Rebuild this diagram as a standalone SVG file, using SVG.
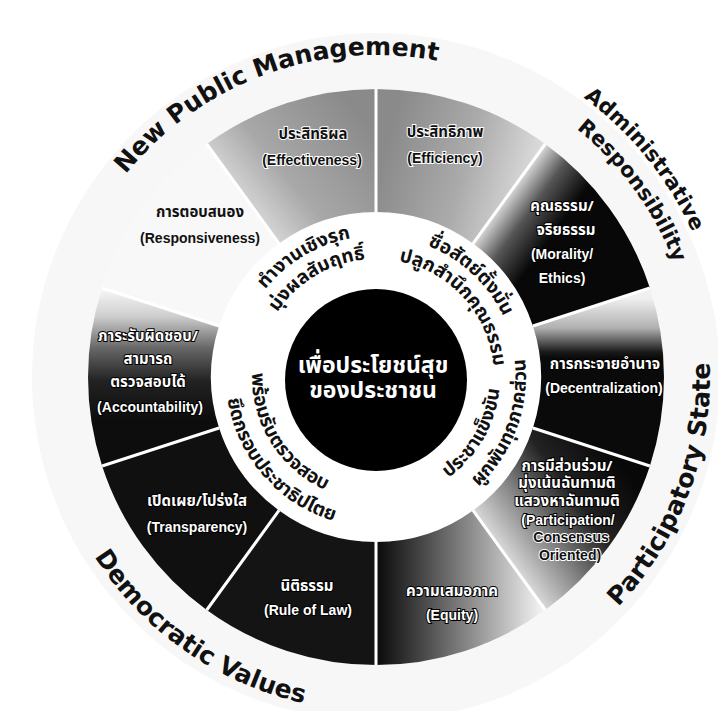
<svg xmlns="http://www.w3.org/2000/svg" width="718" height="711" viewBox="0 0 718 711">
<defs>
<style>
.lat{font-family:"DejaVu Sans","Liberation Sans",sans-serif;font-weight:bold;}
.big{font-size:25px;fill:#111;}
.mid{font-size:21px;fill:#111;}
.thai{font-family:"Noto Sans Thai","Noto Sans","DejaVu Sans",sans-serif;font-weight:bold;}
.ring{font-size:19px;fill:#111;}
.lbl{font-family:"Liberation Sans","Noto Sans Thai",sans-serif;font-weight:bold;font-size:14px;text-anchor:middle;}
.th{font-family:"Noto Sans Thai","Liberation Sans",sans-serif;font-size:15px;}
.wt{fill:#fff;stroke:#000;stroke-width:2;paint-order:stroke;}
.bk{fill:#111;stroke:#fff;stroke-width:2;paint-order:stroke;}
.sep{stroke:#fff;stroke-width:3;fill:none;}
</style>
<linearGradient id="gEffect" gradientUnits="userSpaceOnUse" x1="365" y1="120" x2="230" y2="230"><stop offset="0" stop-color="#8a8a8a"/><stop offset="0.55" stop-color="#a8a8a8"/><stop offset="1" stop-color="#eeeeee"/></linearGradient>
<linearGradient id="gEffic" gradientUnits="userSpaceOnUse" x1="385" y1="150" x2="560" y2="200"><stop offset="0" stop-color="#8a8a8a"/><stop offset="0.45" stop-color="#ababab"/><stop offset="1" stop-color="#f2f2f2"/></linearGradient>
<linearGradient id="gMoral" gradientUnits="userSpaceOnUse" x1="509" y1="194" x2="557" y2="229"><stop offset="0" stop-color="#d8d8d8"/><stop offset="0.45" stop-color="#555"/><stop offset="1" stop-color="#080808"/></linearGradient>
<linearGradient id="gDecent" gradientUnits="userSpaceOnUse" x1="0" y1="298" x2="0" y2="358"><stop offset="0" stop-color="#f0f0f0"/><stop offset="0.5" stop-color="#b0b0b0"/><stop offset="0.9" stop-color="#1a1a1a"/><stop offset="1" stop-color="#0a0a0a"/></linearGradient>
<linearGradient id="gPartic" gradientUnits="userSpaceOnUse" x1="610" y1="450" x2="480" y2="545"><stop offset="0" stop-color="#080808"/><stop offset="0.35" stop-color="#222"/><stop offset="0.65" stop-color="#888"/><stop offset="1" stop-color="#f4f4f4"/></linearGradient>
<linearGradient id="gEquity" gradientUnits="userSpaceOnUse" x1="380" y1="0" x2="540" y2="0"><stop offset="0" stop-color="#0e0e0e"/><stop offset="0.25" stop-color="#444"/><stop offset="0.55" stop-color="#888"/><stop offset="1" stop-color="#f0f0f0"/></linearGradient>
<linearGradient id="gAccount" gradientUnits="userSpaceOnUse" x1="0" y1="420" x2="0" y2="290"><stop offset="0" stop-color="#0d0d0d"/><stop offset="0.3" stop-color="#222"/><stop offset="0.55" stop-color="#666"/><stop offset="0.8" stop-color="#cfcfcf"/><stop offset="1" stop-color="#f5f5f5"/></linearGradient>
<path id="pNPM" d="M58.89,321.09 A322,322 0 0 1 582.98,130.33"/>
<path id="pAdm" d="M442.40,35.39 A348,348 0 0 1 723.95,383.07"/>
<path id="pRes" d="M453.17,67.48 A319,319 0 0 1 694.22,399.25"/>
<path id="pPart" d="M517.15,679.71 A334,334 0 0 0 681.12,241.15"/>
<path id="pDem" d="M47.07,435.0 A334,334 0 0 0 434.0,705.93"/>
<path id="pTLo" d="M237.59,403.90 A141,141 0 0 1 464.73,267.42"/>
<path id="pTLi" d="M260.17,399.52 A118,118 0 0 1 450.26,285.30"/>
<path id="pTRo" d="M311.99,251.37 A141,141 0 0 1 505.79,432.09"/>
<path id="pTRi" d="M331.80,267.59 A118,118 0 0 1 480.19,432.40"/>
<path id="pBRo" d="M376,527 A150,150 0 0 0 472.42,262.09"/>
<path id="pBRi" d="M354.47,499.12 A124,124 0 0 0 470.99,297.29"/>
<path id="pBLi" d="M278.29,300.66 A124,124 0 0 0 401.78,498.29"/>
<path id="pBLo" d="M244.81,304.28 A150,150 0 0 0 429.76,517.04"/>
</defs>
<rect width="718" height="711" fill="#fff"/>
<g id="outer-band">
<circle cx="376" cy="377" r="316" fill="none" stroke="#f7f7f7" stroke-width="56"/>
</g>
<g id="seg-efficiency"><path d="M376,89 A288,288 0 0 1 545.28,144.00 L472.99,243.51 A165,165 0 0 0 376,212 Z" fill="url(#gEffic)"/>
<text class="lbl th bk" x="445" y="137">ประสิทธิภาพ</text><text class="lbl bk" x="445" y="163">(Efficiency)</text></g>
<g id="seg-morality"><path d="M545.28,144.00 A288,288 0 0 1 649.90,288.00 L532.92,326.01 A165,165 0 0 0 472.99,243.51 Z" fill="url(#gMoral)"/>
<text class="lbl th wt" x="562" y="211">คุณธรรม/</text><text class="lbl th wt" x="566" y="235">จริยธรรม</text><text class="lbl wt" x="562" y="259">(Morality/</text><text class="lbl wt" x="562" y="283">Ethics)</text></g>
<g id="seg-decentralization"><path d="M649.90,288.00 A288,288 0 0 1 649.90,466.00 L532.92,427.99 A165,165 0 0 0 532.92,326.01 Z" fill="url(#gDecent)"/>
<text class="lbl th wt" x="605" y="369">การกระจายอำนาจ</text><text class="lbl wt" x="604" y="393">(Decentralization)</text></g>
<g id="seg-participation"><path d="M649.90,466.00 A288,288 0 0 1 545.28,610.00 L472.99,510.49 A165,165 0 0 0 532.92,427.99 Z" fill="url(#gPartic)"/>
<text class="lbl th wt" x="567" y="471">การมีส่วนร่วม/</text><text class="lbl th wt" x="567" y="488">มุ่งเน้นฉันทามติ</text><text class="lbl th wt" x="567" y="506">แสวงหาฉันทามติ</text><text class="lbl wt" x="568" y="525">(Participation/</text><text class="lbl bk" x="571" y="542">Consensus</text><text class="lbl bk" x="570" y="560">Oriented)</text></g>
<g id="seg-equity"><path d="M545.28,610.00 A288,288 0 0 1 376,665 L376,542 A165,165 0 0 0 472.99,510.49 Z" fill="url(#gEquity)"/>
<text class="lbl th wt" x="452" y="596">ความเสมอภาค</text><text class="lbl wt" x="452" y="620">(Equity)</text></g>
<g id="seg-ruleoflaw"><path d="M376,665 A288,288 0 0 1 206.72,610.00 L279.02,510.49 A165,165 0 0 0 376,542 Z" fill="#141414"/>
<text class="lbl th wt" x="307" y="591">นิติธรรม</text><text class="lbl wt" x="308" y="615">(Rule of Law)</text></g>
<g id="seg-transparency"><path d="M206.72,610.00 A288,288 0 0 1 102.10,466.00 L219.08,427.99 A165,165 0 0 0 279.02,510.49 Z" fill="#101010"/>
<text class="lbl th wt" x="197" y="506">เปิดเผย/โปร่งใส</text><text class="lbl wt" x="197" y="532">(Transparency)</text></g>
<g id="seg-accountability"><path d="M102.10,466.00 A288,288 0 0 1 102.10,288.00 L219.08,326.01 A165,165 0 0 0 219.08,427.99 Z" fill="url(#gAccount)"/>
<text class="lbl th wt" x="148" y="341">ภาระรับผิดชอบ/</text><text class="lbl th wt" x="148" y="364">สามารถ</text><text class="lbl th wt" x="148" y="387">ตรวจสอบได้</text><text class="lbl wt" x="150" y="412">(Accountability)</text></g>
<g id="seg-responsiveness"><path d="M102.10,288.00 A288,288 0 0 1 206.72,144.00 L279.02,243.51 A165,165 0 0 0 219.08,326.01 Z" fill="#f8f8f8"/>
<text class="lbl th" fill="#111" x="200" y="217">การตอบสนอง</text><text class="lbl" fill="#111" x="200" y="243">(Responsiveness)</text></g>
<g id="seg-effectiveness"><path d="M206.72,144.00 A288,288 0 0 1 376,89 L376,212 A165,165 0 0 0 279.02,243.51 Z" fill="url(#gEffect)"/>
<text class="lbl th bk" x="313" y="139">ประสิทธิผล</text><text class="lbl bk" x="312" y="165">(Effectiveness)</text></g>
<g id="connectors">
<path class="sep" d="M376,89 L376,212 M545.28,144.00 L472.99,243.51 M649.90,288.00 L532.92,326.01 M649.90,466.00 L532.92,427.99 M545.28,610.00 L472.99,510.49 M376,665 L376,542 M206.72,610.00 L279.02,510.49 M102.10,466.00 L219.08,427.99 M102.10,288.00 L219.08,326.01 M206.72,144.00 L279.02,243.51"/>
</g>
<g id="inner-ring">
<text class="thai ring"><textPath href="#pTLo" startOffset="50%" text-anchor="middle">ทำงานเชิงรุก</textPath></text>
<text class="thai ring"><textPath href="#pTLi" startOffset="50%" text-anchor="middle">มุ่งผลสัมฤทธิ์</textPath></text>
<text class="thai ring"><textPath href="#pTRo" startOffset="50%" text-anchor="middle">ซื่อสัตย์ตั้งมั่น</textPath></text>
<text class="thai ring"><textPath href="#pTRi" startOffset="50%" text-anchor="middle">ปลูกสำนึกคุณธรรม</textPath></text>
<text class="thai ring"><textPath href="#pBRo" startOffset="50%" text-anchor="middle">ผูกพันทุกภาคส่วน</textPath></text>
<text class="thai ring"><textPath href="#pBRi" startOffset="50%" text-anchor="middle">ประชาแข็งขัน</textPath></text>
<text class="thai ring"><textPath href="#pBLi" startOffset="50%" text-anchor="middle">พร้อมรับตรวจสอบ</textPath></text>
<text class="thai ring"><textPath href="#pBLo" startOffset="50%" text-anchor="middle">ยึดกรอบประชาธิปไตย</textPath></text>
</g>
<g id="center">
<circle cx="376" cy="380" r="91" fill="#000"/>
<text class="thai" font-size="23" fill="#fff" text-anchor="middle" x="373" y="373">เพื่อประโยชน์สุข</text>
<text class="thai" font-size="23" fill="#fff" text-anchor="middle" x="373" y="398">ของประชาชน</text>
</g>
<g id="outer-labels">
<text class="lat big"><textPath href="#pNPM" startOffset="50%" text-anchor="middle">New Public Management</textPath></text>
<text class="lat mid"><textPath href="#pAdm" startOffset="50%" text-anchor="middle">Administrative</textPath></text>
<text class="lat mid"><textPath href="#pRes" startOffset="50%" text-anchor="middle">Responsibility</textPath></text>
<text class="lat big"><textPath href="#pPart" startOffset="50%" text-anchor="middle">Participatory State</textPath></text>
<text class="lat big"><textPath href="#pDem" startOffset="50%" text-anchor="middle">Democratic Values</textPath></text>
</g>
</svg>
